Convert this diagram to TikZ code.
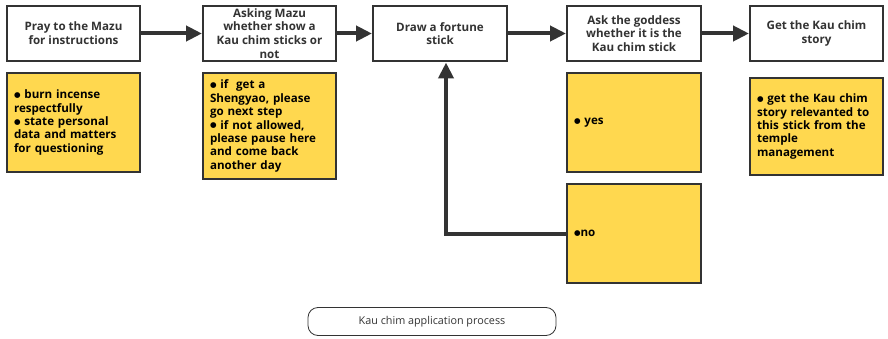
\documentclass[tikz,border=0pt]{standalone}
\usepackage{fontspec}
\setmainfont{Open Sans}
\newfontfamily\dvs{DejaVu Sans}
\usetikzlibrary{arrows.meta}
\definecolor{bord}{HTML}{333333}
\definecolor{ylw}{HTML}{FFD84F}
\definecolor{txt}{HTML}{333333}
\newcommand{\blt}{\raisebox{1.3pt}{\dvs\fontsize{7.5}{7.5}\selectfont ●}}
\tikzset{
  stepbox/.style={draw=bord, line width=2pt, fill=white, minimum width=133pt, minimum height=55pt,
    align=center, text=txt, font=\fontsize{11.6}{13.7}\selectfont\bfseries, inner sep=1pt},
  notebox/.style={draw=bord, line width=2pt, fill=ylw, inner xsep=7pt, inner ysep=0pt,
    text width=119pt, align=left, text=black, font=\fontsize{11.6}{13.4}\selectfont\bfseries},
  arr/.style={draw=bord, line width=4pt, -{Triangle[length=16pt,width=15pt]}},
  caption/.style={draw=bord, line width=0.8pt, rounded corners=10pt, minimum width=248pt,
    minimum height=28pt, font=\fontsize{10.8}{12}\selectfont, text=txt}
}
\begin{document}
\begin{tikzpicture}[x=1pt,y=1pt]
\useasboundingbox (0,0) rectangle (888,-339);
\node[stepbox] (b1) at (73.5,-33.5) {Pray to the Mazu\\for instructions};
\node[stepbox] (b2) at (269.5,-33.5) {Asking Mazu\\whether show a\\Kau chim sticks or\\not};
\node[stepbox, minimum width=134pt] (b3) at (440,-33.5) {Draw a fortune\\stick};
\node[stepbox, minimum width=134pt] (b4) at (634,-33.5) {Ask the goddess\\whether it is the\\Kau chim stick};
\node[stepbox] (b5) at (816.5,-33.5) {Get the Kau chim\\story};

\node[notebox, minimum height=99pt] (n1) at (73.5,-122.5) {\blt{} burn incense\\respectfully\\\blt{} state personal\\data and matters\\for questioning};
\node[notebox, minimum height=106pt] (n2) at (269.5,-126) {\blt{} if \ get a\\Shengyao, please\\go next step\\\blt{} if not allowed,\\please pause here\\and come back\\another day};
\node[notebox, minimum height=99pt, text width=120pt] (yes) at (634,-122.5) {\blt{} yes};
\node[notebox, minimum height=97pt] (n5) at (816.5,-126.5) {\blt{} get the Kau chim\\story relevanted to\\this stick from the\\temple\\management};
\node[notebox, minimum height=99pt, text width=120pt] (no) at (634,-233.5) {\blt{}no};

\draw[arr] (b1.east) -- (b2.west);
\draw[arr] (b2.east) -- (b3.west);
\draw[arr] (b3.east) -- (b4.west);
\draw[arr] (b4.east) -- (b5.west);
\coordinate (lx) at (446,-62.5);
\draw[arr] (no.west) -| (lx);

\node[caption] (cap) at (432,-321.5) {Kau chim application process};
\end{tikzpicture}
\end{document}
